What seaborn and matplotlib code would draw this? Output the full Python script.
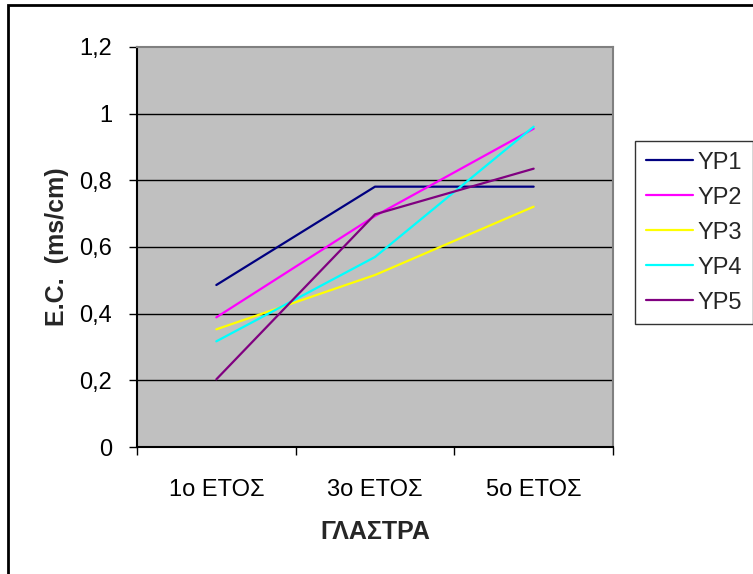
import matplotlib
matplotlib.use("Agg")
import matplotlib.pyplot as plt
import seaborn as sns
import pandas as pd
from matplotlib.patches import Rectangle
from matplotlib.lines import Line2D

# Electrical conductivity of the pot soil over the years
years = ["1ο ΕΤΟΣ", "3ο ΕΤΟΣ", "5ο ΕΤΟΣ"]
series = ["YP1", "YP2", "YP3", "YP4", "YP5"]
yp1 = [0.486, 0.781, 0.781]
yp2 = [0.389, 0.693, 0.955]
yp3 = [0.353, 0.516, 0.721]
yp4 = [0.317, 0.570, 0.961]
yp5 = [0.203, 0.698, 0.835]
y_ticks = [0, 0.2, 0.4, 0.6, 0.8, 1.0, 1.2]
y_tick_labels = ["0", "0,2", "0,4", "0,6", "0,8", "1", "1,2"]
colors = ["#000080", "#FF00FF", "#FFFF00", "#00FFFF", "#800080"]

rows = []
for name, vals in zip(series, [yp1, yp2, yp3, yp4, yp5]):
    for i, v in enumerate(vals):
        rows.append({"pos": i, "year": years[i], "series": name, "ec": v})
df = pd.DataFrame(rows)

sns.set_theme(style="white")
plt.rcParams["font.family"] = ["Liberation Sans", "DejaVu Sans"]

FS = 17
W, H = 753, 574
fig = plt.figure(figsize=(W / 100, H / 100), dpi=100)
ax = fig.add_axes([137 / W, (H - 447) / H, 476 / W, 400 / H])
ax.set_facecolor("#C0C0C0")

for y in y_ticks[1:-1]:
    ax.axhline(y, color="#000000", lw=1.0, zorder=1)

sns.lineplot(data=df, x="pos", y="ec", hue="series", palette=colors,
             linewidth=1.6, ax=ax, legend=False, zorder=3, sort=False)

ax.set_xlim(-0.5, 2.5)
ax.set_ylim(0, 1.2)

ax.set_xticks([-0.5, 0.5, 1.5, 2.5])
ax.set_xticklabels([])
ax.set_xticks([0, 1, 2], minor=True)
ax.set_xticklabels(years, minor=True, fontsize=FS)
ax.tick_params(axis="x", which="major", direction="out", length=6,
               width=1, color="#000000", bottom=True)
ax.tick_params(axis="x", which="minor", length=0, pad=23, labelcolor="#000000")

ax.set_yticks(y_ticks)
ax.set_yticklabels(y_tick_labels, fontsize=FS)
ax.tick_params(axis="y", direction="out", length=6, width=1,
               color="#000000", left=True, pad=12, labelcolor="#000000")

for side in ["left", "bottom"]:
    ax.spines[side].set_color("#000000")
    ax.spines[side].set_linewidth(1.5)
for side in ["top", "right"]:
    ax.spines[side].set_color("#808080")
    ax.spines[side].set_linewidth(1.5)

ax.set_xlabel("ΓΛΑΣΤΡΑ", fontsize=18, fontweight="bold", labelpad=14)
ax.set_ylabel("E.C.  (ms/cm)", fontsize=18, fontweight="bold", labelpad=7)

handles = [Line2D([0], [0], color=c, lw=1.6) for c in colors]
leg = fig.legend(handles, series, loc="upper left",
                 bbox_to_anchor=(635 / W, 1 - 141 / H), fontsize=FS,
                 frameon=True, fancybox=False, handlelength=2.0,
                 handletextpad=0.2, labelspacing=0.55, borderpad=0.45,
                 borderaxespad=0)
leg.get_frame().set_edgecolor("#000000")
leg.get_frame().set_linewidth(1.0)

# outer chart frame
fig.patches.append(Rectangle((8 / W, -0.1), 1.2, 1 - 5 / H + 0.1,
                             transform=fig.transFigure, fill=False,
                             edgecolor="#000000", linewidth=2.0))

fig.savefig("out.png", dpi=100, facecolor="white")
